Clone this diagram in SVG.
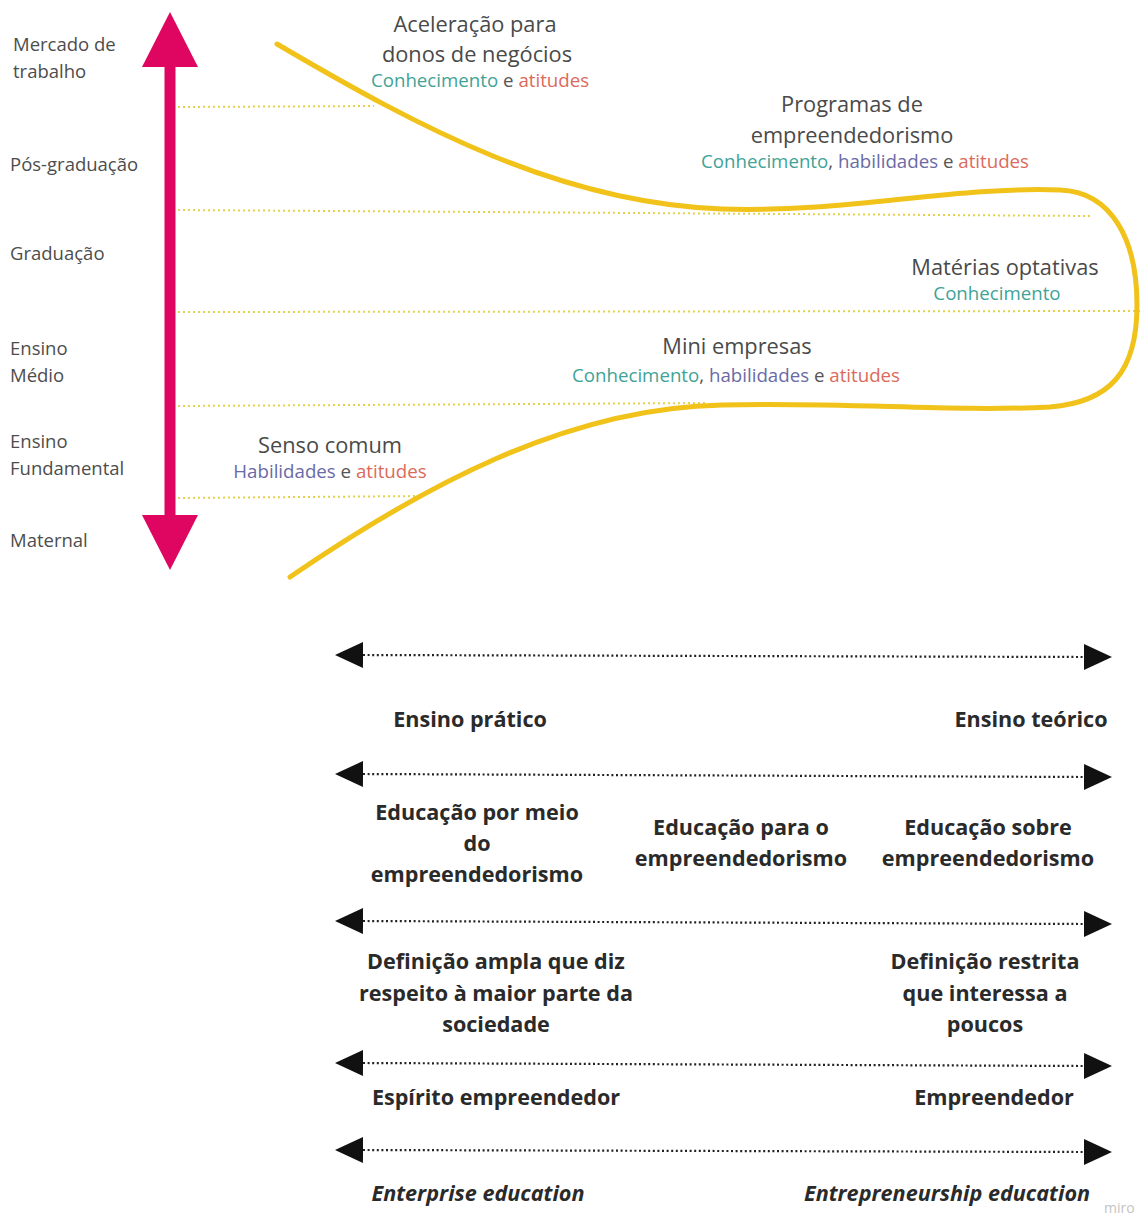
<svg xmlns="http://www.w3.org/2000/svg" width="1145" height="1215" viewBox="0 0 1145 1215">
  <style>
    .lvl { font-family: "Open Sans", "Noto Sans", sans-serif; font-size: 18.5px; fill: #4d4d4d; }
    .ttl { font-family: "Open Sans", "Noto Sans", sans-serif; font-size: 21.8px; fill: #4a4a4a; text-anchor: middle; }
    .sub { font-family: "Open Sans", "Noto Sans", sans-serif; font-size: 18.7px; fill: #555; text-anchor: middle; }
    .k { fill: #3fa397; }
    .h { fill: #6a6aa6; }
    .a { fill: #dc6a5c; }
    .bt { font-family: "Open Sans", "Noto Sans", sans-serif; font-size: 21.6px; font-weight: bold; fill: #2a2a2a; text-anchor: middle; }
    .it { font-style: italic; }
    .grid { stroke: #e4d24a; stroke-width: 2; stroke-dasharray: 2 3; fill: none; }
    .spec { stroke: #222; stroke-width: 2.2; stroke-dasharray: 2 2.6; fill: none; marker-start: url(#head); marker-end: url(#head); }
  </style>
  <defs>
    <marker id="head" markerUnits="userSpaceOnUse" markerWidth="30" markerHeight="28" viewBox="0 -14 30 28" refX="0" refY="0" orient="auto-start-reverse">
      <path d="M0,-13 L28,0 L0,13 z" fill="#111"/>
    </marker>
  </defs>

  <rect width="1145" height="1215" fill="#ffffff"/>

  <!-- level grid lines -->
  <g id="grid-lines">
    <line class="grid" x1="178" y1="107" x2="374" y2="106"/>
    <line class="grid" x1="178" y1="210" x2="1090" y2="216"/>
    <line class="grid" x1="178" y1="312" x2="1140" y2="311"/>
    <line class="grid" x1="178" y1="406" x2="706" y2="403"/>
    <line class="grid" x1="178" y1="498" x2="424" y2="496"/>
  </g>

  <!-- education axis -->
  <g id="axis">
    <rect x="164.5" y="60" width="11" height="462" fill="#de0660"/>
    <polygon points="170,12 198,67 142,67" fill="#de0660"/>
    <polygon points="170,570 198,515 142,515" fill="#de0660"/>
  </g>

  <!-- level labels -->
  <g id="level-mercado"><text class="lvl" x="13" y="51">Mercado de</text><text class="lvl" x="13" y="78">trabalho</text></g>
  <g id="level-pos"><text class="lvl" x="10" y="171">Pós-graduação</text></g>
  <g id="level-graduacao"><text class="lvl" x="10" y="260">Graduação</text></g>
  <g id="level-medio"><text class="lvl" x="10" y="355">Ensino</text><text class="lvl" x="10" y="382">Médio</text></g>
  <g id="level-fundamental"><text class="lvl" x="10" y="475" dy="-27">Ensino</text><text class="lvl" x="10" y="475">Fundamental</text></g>
  <g id="level-maternal"><text class="lvl" x="10" y="547">Maternal</text></g>

  <!-- funnel curve -->
  <g id="funnel">
    <path d="M277,44 C420,128 560,203 722,209 C850,213 950,186 1060,190 C1112,192 1137,240 1137,305 C1137,372 1110,402 1050,407 C950,412 850,402 722,405 C565,408 420,488 290,577" fill="none" stroke="#f0c21a" stroke-width="5" stroke-linecap="round" stroke-linejoin="round"/>
  </g>

  <!-- programme labels -->
  <g id="prog-aceleracao">
    <text class="ttl" x="475" y="32">Aceleração para</text>
    <text class="ttl" x="477" y="62">donos de negócios</text>
    <text class="sub" x="480" y="87"><tspan class="k">Conhecimento</tspan> e <tspan class="a">atitudes</tspan></text>
  </g>
  <g id="prog-programas">
    <text class="ttl" x="852" y="112">Programas de</text>
    <text class="ttl" x="852" y="143">empreendedorismo</text>
    <text class="sub" x="865" y="168"><tspan class="k">Conhecimento</tspan>, <tspan class="h">habilidades</tspan> e <tspan class="a">atitudes</tspan></text>
  </g>
  <g id="prog-materias">
    <text class="ttl" x="1005" y="275">Matérias optativas</text>
    <text class="sub" x="997" y="300"><tspan class="k">Conhecimento</tspan></text>
  </g>
  <g id="prog-mini">
    <text class="ttl" x="737" y="354">Mini empresas</text>
    <text class="sub" x="736" y="382"><tspan class="k">Conhecimento</tspan>, <tspan class="h">habilidades</tspan> e <tspan class="a">atitudes</tspan></text>
  </g>
  <g id="prog-senso">
    <text class="ttl" x="330" y="453">Senso comum</text>
    <text class="sub" x="330" y="478"><tspan class="h">Habilidades</tspan> e <tspan class="a">atitudes</tspan></text>
  </g>

  <!-- spectrum arrows -->
  <g id="spectra">
    <line class="spec" x1="363" y1="655" x2="1084" y2="657"/>
    <line class="spec" x1="363" y1="774" x2="1084" y2="777"/>
    <line class="spec" x1="363" y1="921" x2="1084" y2="924"/>
    <line class="spec" x1="363" y1="1063" x2="1084" y2="1066"/>
    <line class="spec" x1="363" y1="1150" x2="1084" y2="1152"/>
  </g>

  <!-- spectrum labels -->
  <g id="row-ensino">
    <text class="bt" x="470" y="727">Ensino prático</text>
    <text class="bt" x="1031" y="727">Ensino teórico</text>
  </g>
  <g id="row-educacao">
    <text class="bt" x="477" y="820">Educação por meio</text>
    <text class="bt" x="477" y="851">do</text>
    <text class="bt" x="477" y="882">empreendedorismo</text>
    <text class="bt" x="741" y="835">Educação para o</text>
    <text class="bt" x="741" y="866">empreendedorismo</text>
    <text class="bt" x="988" y="835">Educação sobre</text>
    <text class="bt" x="988" y="866">empreendedorismo</text>
  </g>
  <g id="row-definicao">
    <text class="bt" x="496" y="969">Definição ampla que diz</text>
    <text class="bt" x="496" y="1001">respeito à maior parte da</text>
    <text class="bt" x="496" y="1032">sociedade</text>
    <text class="bt" x="985" y="969">Definição restrita</text>
    <text class="bt" x="985" y="1001">que interessa a</text>
    <text class="bt" x="985" y="1032">poucos</text>
  </g>
  <g id="row-espirito">
    <text class="bt" x="496" y="1105">Espírito empreendedor</text>
    <text class="bt" x="994" y="1105">Empreendedor</text>
  </g>
  <g id="row-education">
    <text class="bt it" x="478" y="1201">Enterprise education</text>
    <text class="bt it" x="947" y="1201">Entrepreneurship education</text>
  </g>

  <text x="1104" y="1213" font-family="Open Sans, sans-serif" font-size="14" fill="#c4c4c4">miro</text>
</svg>
